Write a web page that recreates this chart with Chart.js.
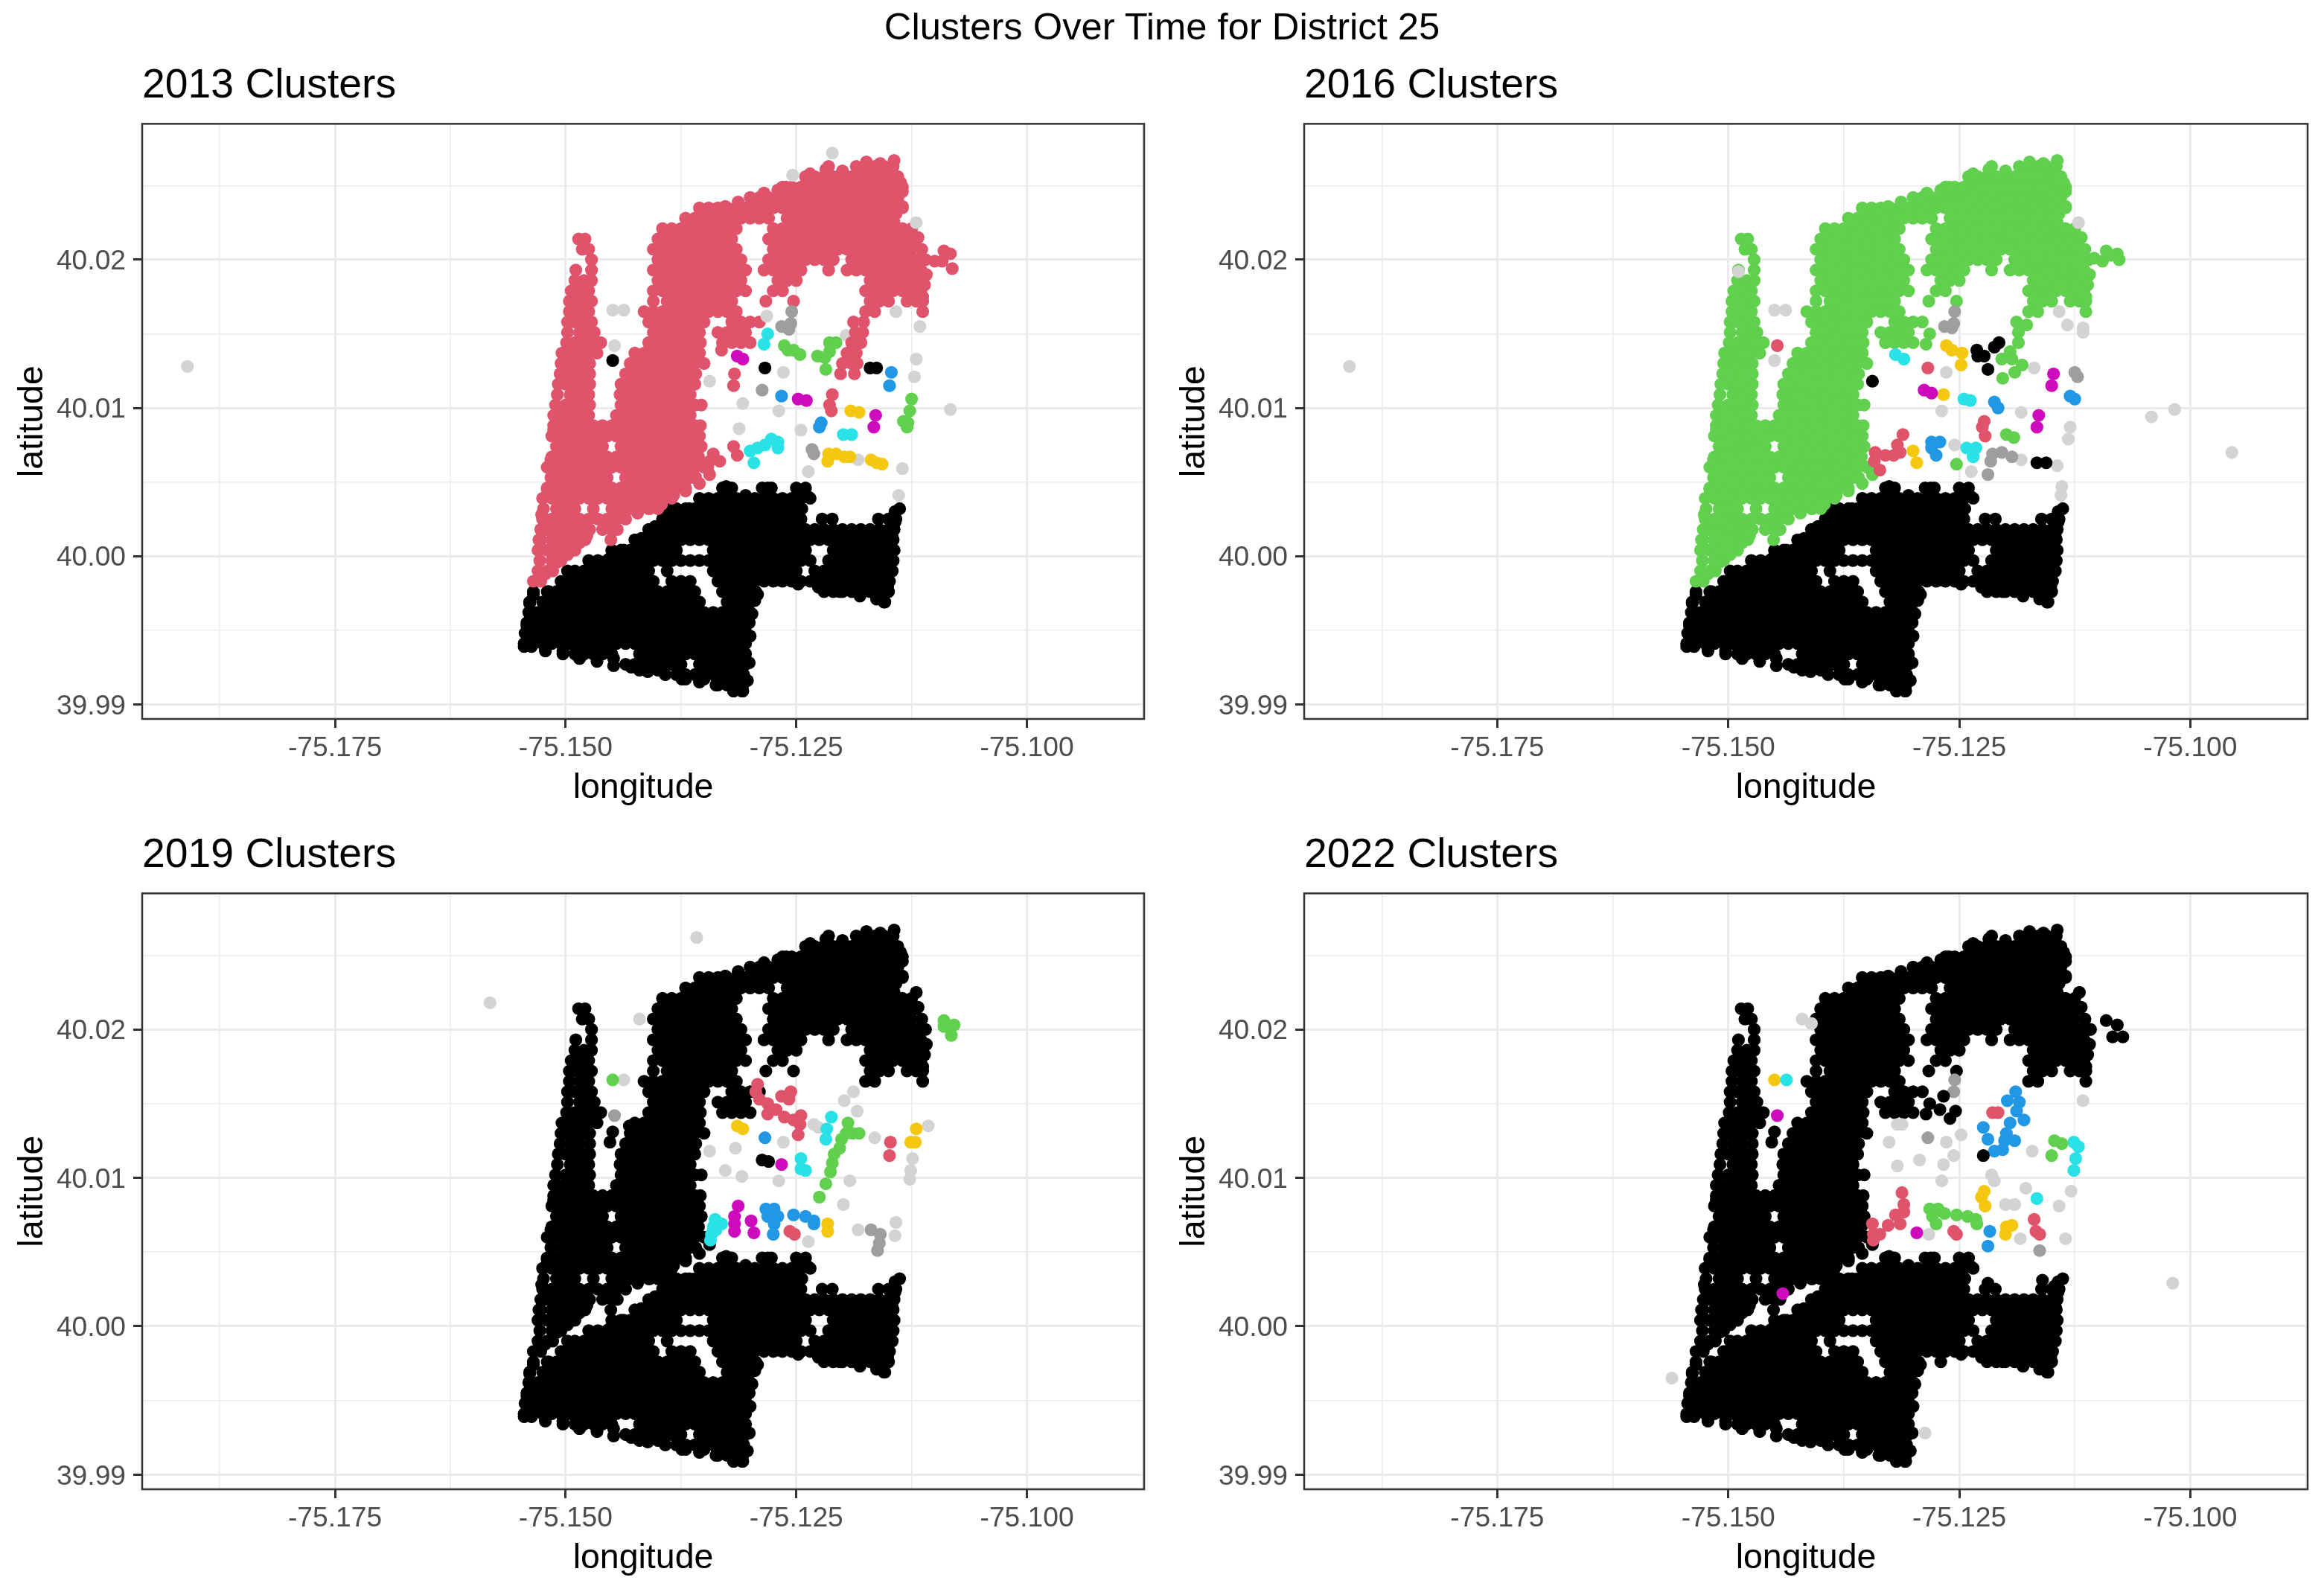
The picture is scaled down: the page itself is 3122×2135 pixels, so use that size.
<!DOCTYPE html>
<html lang="en">
  <head>
    <meta charset="UTF-8" />
    <title>Clusters Over Time for District 25</title>
    <script src="https://cdn.jsdelivr.net/npm/chart.js@4"></script>
    <style>
      body { margin: 0; background: #fff; width: 3122px; height: 2135px; position: relative; overflow: hidden; font-family: "Liberation Sans", Arial, sans-serif; }
      h1 { position: absolute; left: 0; width: 3122px; top: 6px; margin: 0; text-align: center; font-size: 50.7px; line-height: 60px; font-weight: normal; color: #000; }
      canvas { position: absolute; }
    </style>
  </head>
  <body>
    <h1>Clusters Over Time for District 25</h1>
    <canvas id="c2013" width="1561" height="1020" style="left:0;top:70px"></canvas>
    <canvas id="c2016" width="1561" height="1020" style="left:1561px;top:70px"></canvas>
    <canvas id="c2019" width="1561" height="1021" style="left:0;top:1104px"></canvas>
    <canvas id="c2022" width="1561" height="1021" style="left:1561px;top:1104px"></canvas>

    <script>
      // longitudes are written as thousandths of a degree west of -75
      const xMajor = [-75.175, -75.15, -75.125, -75.1];
      const xMinor = [-75.1875, -75.1625, -75.1375, -75.1125, -75.0875];
      const xLabels = ['-75.175', '-75.150', '-75.125', '-75.100'];
      const yMajor = [39.99, 40, 40.01, 40.02];
      const yMinor = [39.995, 40.005, 40.015, 40.025];
      const yLabels = ['39.99', '40.00', '40.01', '40.02'];

      // north block of addresses: [latitude, [west...]]
      const northRows = [
        [40.0263,[121.5,117.5,116.5,115.5,114.5]],
        [40.0256,[124,123,122,121,120,119,118,117,116,115,114]],
        [40.0249,[126.5,125.5,124.5,123.5,122.5,121.5,120.5,119.5,118.5,117.5,116.5,115.5,114.5,113.5]],
        [40.0242,[130,129,128,127,126,125,124,123,122,121,120,119,118,117,116,115,114]],
        [40.0235,[135.5,134.5,133.5,132.5,131.5,130.5,129.5,128.5,127.5,126.5,125.5,124.5,123.5,122.5,121.5,120.5,119.5,118.5,117.5,116.5,115.5,114.5,113.5]],
        [40.0228,[137,136,135,134,133,132,131,130,129,128,126,125,124,123,122,121,120,119,118,117,116,115]],
        [40.0221,[139.5,138.5,137.5,136.5,135.5,134.5,133.5,132.5,131.5,127.5,126.5,125.5,124.5,123.5,122.5,121.5,120.5,119.5,118.5,117.5,116.5,115.5,114.5,113.5,112.5]],
        [40.0214,[148.6,147.9,140,139,138,137,136,135,134,133,132,128,127,126,125,124,123,122,121,120,119,118,117,116,115,114,113,112]],
        [40.0207,[148.2,147.5,140.5,139.5,138.5,137.5,136.5,135.5,134.5,133.5,132.5,131.5,127.5,126.5,125.5,124.5,123.5,122.5,121.5,120.5,119.5,118.5,117.5,116.5,115.5,114.5,113.5,112.5]],
        [40.02,[147.2,140,139,138,137,136,135,134,133,132,131,128,127,126,125,124,123,122,121,119,118,117,116,115,114,113,112,111]],
        [40.0193,[148.9,147.2,140.5,139.5,138.5,137.5,136.5,135.5,134.5,133.5,132.5,131.5,130.5,128.5,127.5,126.5,125.5,124.5,121.5,119.5,118.5,117.5,116.5,115.5,114.5,113.5,112.5,111.5]],
        [40.0186,[149,148,147.2,140,139,138,137,136,135,134,133,132,131,127,126,125,117,116,115,114,113,112]],
        [40.0179,[149.4,148.5,147.5,140.5,139.5,138.5,137.5,136.5,135.5,134.5,133.5,132.5,131.5,130.5,127.5,126.5,117.5,116.5,115.5,114.5,113.5,112.5,111.5]],
        [40.0172,[149.6,149,148,147.2,140.5,139,138,137,136,135,134,133,132,128.3,125.3,117,116,115,113,112,111.3]],
        [40.0165,[149.6,148.5,147.5,141.5,140.5,139.5,138.5,137.5,136.5,135.5,134.5,133.5,132.5,131.5,117.5,116.5,111.3]],
        [40.0158,[149.8,149,148,147.2,141,140,139,138,137,136,135,132,131,130,129]],
        [40.0151,[149.8,148.5,147.5,146.9,140.5,139.5,138.5,137.5,136.5,135.5,133.5,132.5,131.5,130.5]],
        [40.0144,[149.9,149,148,147,146.2,141,140,139,138,137,136,135.4,133,132,131,130]],
        [40.0137,[150.4,149.5,148.5,147.5,146.6,142.5,141.5,140.5,139.5,138.5,137.5,136.5,135.5]],
        [40.013,[150.5,150,149,148,147.4,143,142,141,140,139,138,137,136,135]],
        [40.0123,[150.6,149.5,148.5,147.4,143.5,142.5,141.5,140.5,139.5,138.5,137.5,136.5,135.9]],
        [40.0116,[150.8,150,149,148,147.4,144,143,142,141,140,139,138,137,136]],
        [40.0109,[150.9,149.5,148.5,147.5,144.1,143.5,142.5,141.5,140.5,139.5,138.5,137.5,136.5]],
        [40.0102,[151.1,150,149,148,147.4,144,143,142,141,140,139,138,137,136,135.3]],
        [40.0095,[151.3,150.5,149.5,148.5,147.5,144.5,143.5,142.5,141.5,140.5,139.5,138.5,137.5,136.5]],
        [40.0088,[151.3,151,150,149,148,147,146,145,144,143,142,141,140,139,138,137,136,135.4]],
        [40.0081,[151.5,150.5,149.5,148.5,147.5,146.5,145.5,144.5,143.5,142.5,141.5,140.5,139.5,138.5,137.5,136.5,135.5]],
        [40.0074,[151,150,149,148,147,146,144,143,142,141,140,139,138,137,136,135.3]],
        [40.0067,[151.5,150.5,149.5,148.5,147.5,146.5,145.5,144.5,143.5,142.5,141.5,140.5,139.5,138.5,137.5,136.5,135.6]],
        [40.006,[152,151,150,149,148,147,146,145,144,143,142,141,140,139,138,137,136,135,134.6]],
        [40.0053,[151.6,150.5,149.5,148.5,147.5,146.5,145.5,143.5,142.5,141.5,140.5,139.5,138.5,137.5,136.5,135.9]],
        [40.0046,[152,151,150,149,148,147,146,145,144,143,142,141,140,139,138,137]],
        [40.0039,[152.5,151.5,150.5,149.5,148.5,147.5,146.5,145.5,144.5,143.5,142.5,141.5,140.5,139.5,138.5]],
        [40.0032,[152.4,151,150,149,147,145,144,143,142,141,140]],
        [40.0025,[152.5,151.5,150.5,149.5,148.5,147.5,146.5,145.5,144.5,143.5]],
        [40.0018,[152.7,152,151,150,149,148,147.4,146,145,144.4]],
        [40.0011,[152.7,151.5,150.5,149.5,148.5,147.9,145.1]],
        [40.0004,[153,152,151,150,149]],
        [39.9997,[152.8,151.5,150.5]],
        [39.999,[153,152,151.4]],
        [39.9983,[153.5,152.7]]
      ];
      // points along the outline of the north block: [west, latitude]
      const northEdge = [[139.4,40.0218],[135.5,40.023],[134,40.0234],[132.7,40.0236],[131.3,40.0239],[128.5,40.0245],[127,40.0247],[126.1,40.0249],[123.5,40.0258],[121.8,40.0261],[120,40.026],[118.5,40.0263],[117.4,40.0266],[115.9,40.0265],[114.4,40.0267],[113.7,40.0252],[113.5,40.0246],[113.5,40.0236],[114.2,40.0231],[114.4,40.0225],[112.9,40.0219],[111.8,40.0215],[111.4,40.0207],[110.9,40.019],[111.1,40.0183],[111.3,40.0175],[152.2,39.9988],[150.9,39.9996],[149.8,40.0001],[148.5,40.0009],[147.7,40.0014],[142.2,40.0029],[140.9,40.0032],[139.6,40.0035],[138.3,40.0041],[137,40.0044],[135.5,40.0049],[134.4,40.0055],[152.9,40.0011],[152.6,40.0028],[152,40.0045],[151.6,40.0065],[151.3,40.0085]];

      // south block of addresses
      const southRows = [
        [40.0046,[133,132,128.7,127.7,125,124]],
        [40.0039,[135.5,134.5,133.5,132.5,131.5,130.5,129.5,128.5,127.5,126.5,125.5,124.5,123.5]],
        [40.0032,[138.7,138,137,136,135,134,133,132,131,130,129,128,127,126,125,124.4,113.8]],
        [40.0025,[139.5,138.5,137.5,136.5,135.5,134.5,133.5,132.5,131.5,130.5,129.5,128.5,127.5,126.5,125.5,124.5,122.2,121.1,116.1,115,114.2]],
        [40.0018,[141,140,139,138,137,136,135,134,133,132,131,130,129,128,127,126,125,124,123,122,121,120,119,118,117,116,115,114.4]],
        [40.0011,[142.5,141.5,140.5,139.5,138.5,137.5,136.5,135.5,134.5,133.5,132.5,131.5,130.5,129.5,128.5,127.5,126.5,125.5,124.5,123.5,122.5,121.5,120.5,119.5,118.5,117.5,116.5,115.5,114.5]],
        [40.0004,[145,144,143,142,141,140,139,138,134,133,132,131,130,129,128,127,126,125,124,121,120,119,118,117,116,115,114.4]],
        [39.9997,[147.5,146.5,145.5,144.5,143.5,142.5,141.5,140.5,139.5,138.5,137.5,136.5,135.5,134.5,133.5,132.5,131.5,130.5,129.5,128.5,127.5,126.5,125.5,124.5,123.5,121.5,120.5,119.5,118.5,117.5,116.5,115.5,114.5]],
        [39.999,[149.8,149,148,147,146,145,144,143,142,141,139,134,133,132,131,130,129,128,127,126,125,123,122,121,120,119,118,117,116,115,114.6]],
        [39.9983,[150.5,149.5,148.5,147.5,146.5,145.5,144.5,143.5,142.5,141.5,140.5,138.5,137.5,136.5,133.5,132.5,131.5,130.5,129.5,128.5,127.5,126.5,125.5,124.5,123.5,122.5,121.5,120.5,119.5,118.5,117.5,116.5,115.5,114.9]],
        [39.9976,[153.5,152,151,150,149,148,147,146,145,144,143,142,141,140,139,138,137,136,133,132,131,130,129.4,122,121,120,119,118,117,116,115]],
        [39.9969,[153.9,152.5,151.5,150.5,149.5,148.5,147.5,146.5,145.5,144.5,143.5,142.5,141.5,140.5,139.5,138.5,137.5,136.5,135.5,132.5,131.5,130.5,130,115.5]],
        [39.9962,[154,153,152,151,150,149,148,147,146,145,144,143,142,141,140,139,138,137,136,135,134,133,132,131,130]],
        [39.9955,[154.2,153.5,152.5,151.5,150.5,149.5,148.5,147.5,146.5,145.5,144.5,143.5,142.5,141.5,140.5,139.5,138.5,137.5,136.5,135.5,134.5,133.5,132.5,131.5,130.5,130.1]],
        [39.9948,[154.4,154,153,152,151,150,149,148,147,146,145,144,143,142,141,140,139,138,137,136,135,134,133,132,131,130.4]],
        [39.9941,[154.5,153.5,152.5,151.5,150.5,149.5,148.5,147.5,146.5,145.5,144.5,143.5,142.5,141.5,140.5,139.5,138.5,137.5,136.5,135.5,134.5,133.5,132.5,131.5,130.5]],
        [39.9936,[152.2,150.3]],
        [39.9934,[149,148,147,146,145,142,141,140,139,138,137,136,135,134,133,132,131,130.5]],
        [39.9931,[148.5,146.6,144.8]],
        [39.9927,[143.5,142.5,141.5,140.5,139.5,138.5,137.5,135.5,134.5,133.5,132.5,131.5,130.5]],
        [39.9923,[142,140]],
        [39.992,[138,137,136,135,134,133,132,131,130.7]],
        [39.9917,[137,135]],
        [39.9913,[133.5,132.5,131.5,130.8]],
        [39.9909,[131.8,130.9]]
      ];
      // points along the outline of the south block
      const southEdge = [[153.5,39.9974],[151.8,39.9976],[150.1,39.9981],[148.5,39.9987],[147,39.9992],[145.3,39.9998],[143.7,40.0004],[141.8,40.0012],[140.3,40.002],[138.9,40.0028],[136.6,40.0032],[134.8,40.0038],[132.6,40.0047],[130.5,40.0041],[128.1,40.0046],[125,40.0039],[123.7,40.004],[114.3,40.003],[114.3,40.0023],[114.6,40.0013],[114.8,40.0003],[115,39.9991],[115.1,39.9979],[115.4,39.9969],[116.3,39.9971],[118.1,39.9973],[120.3,39.9976],[122.6,39.9979],[124.8,39.9981],[127,39.9984],[154.5,39.9939],[154.2,39.9953],[153.9,39.9968],[153.7,39.9939],[152.2,39.9937],[150.3,39.9934],[148.5,39.9931],[146.6,39.9929],[144.8,39.9926],[142.9,39.9925],[141.1,39.9922],[139.2,39.992],[137.4,39.9917],[135.5,39.9915],[133.7,39.9913],[131.8,39.9909],[130.8,39.9909],[130.3,39.9916],[130.1,39.9928],[130,39.9946],[129.8,39.9961],[129.5,39.997],[129.2,39.9974]];

      // 2013 clusters: [west, latitude]
      const grey2013 = [[191,40.0128],[121.1,40.0272],[125.4,40.0257],[112,40.0225],[144.9,40.0166],[143.7,40.0166],[128.2,40.0162],[114.2,40.0165],[111.6,40.0155],[119.6,40.0149],[144.7,40.0142],[112,40.0133],[134.4,40.0118],[126.4,40.0124],[112.2,40.0121],[130.8,40.0103],[126.9,40.0098],[108.3,40.0099],[131.2,40.0086],[124.5,40.0085],[118.3,40.0065],[123.7,40.0057],[113.5,40.0059],[113.9,40.0041]];
      const black2013 = [[144.9,40.0132],[128.4,40.0127],[117,40.0127],[116.3,40.0127]];
      const red2013 = [[133.1,40.0139],[131.7,40.0123],[131.8,40.0115],[121.1,40.0109],[121.4,40.0102],[121.2,40.0098],[131.8,40.0074],[131.4,40.0068],[134,40.0069],[134.4,40.0064],[133.3,40.0064],[118.8,40.0158],[117.7,40.0158],[118.6,40.0151],[117.8,40.0151],[119,40.0144],[118,40.0144],[119.5,40.0137],[118.5,40.0137],[120,40.013],[119,40.013],[118.4,40.013],[120.2,40.0123],[118.7,40.0123],[109,40.0206],[108.3,40.0204],[108.1,40.0194],[110,40.0199],[109.2,40.0199]];
      const green2013 = [[126.3,40.0142],[125.9,40.0139],[125.3,40.0139],[124.6,40.0136],[122.7,40.0135],[121.9,40.0134],[121.8,40.0126],[121.4,40.0144],[120.7,40.0144],[121.4,40.0138],[112.5,40.0106],[112.7,40.0098],[113.4,40.0091],[112.9,40.009],[113,40.0087]];
      const blue2013 = [[126.6,40.0108],[114.7,40.0124],[114.9,40.0115],[122.3,40.009],[122.5,40.0087]];
      const cyan2013 = [[128.1,40.015],[128.5,40.0143],[130,40.0071],[129.2,40.0073],[128.4,40.0075],[127.7,40.0079],[127,40.0077],[127,40.0073],[129.6,40.0063],[119.9,40.0082],[119,40.0082]];
      const magenta2013 = [[131.4,40.0135],[130.8,40.0133],[124.8,40.0106],[123.9,40.0105],[116.4,40.0095],[116.6,40.0087]];
      const yellow2013 = [[119.1,40.0098],[118.2,40.0097],[121.5,40.0069],[121.6,40.0064],[120.7,40.0069],[119.8,40.0067],[119.2,40.0067],[116.9,40.0065],[116.3,40.0063],[115.7,40.0062]];
      const dark2013 = [[125.5,40.0165],[125.6,40.0157],[126.6,40.0155],[125.8,40.0153],[128.7,40.0112],[123.3,40.0072],[123.1,40.0069]];

      // 2016 clusters
      const grey2016 = [[191,40.0128],[95.5,40.007],[148.9,40.0192],[145,40.0166],[143.8,40.0166],[145,40.0132],[112.1,40.0225],[114.2,40.0165],[113.3,40.0156],[111.6,40.0154],[111.6,40.0151],[126.4,40.0124],[116.9,40.0127],[126.9,40.0098],[118.3,40.0097],[113,40.0087],[113.2,40.0079],[125.5,40.0075],[118.3,40.0065],[123.7,40.0057],[114.4,40.0061],[113.9,40.0047],[114,40.0041],[104.2,40.0094],[101.7,40.0099]];
      const black2016 = [[134.4,40.0118],[123.1,40.0139],[122.3,40.0135],[121.9,40.0126],[123,40.0135],[121.2,40.0141],[120.7,40.0144],[116.6,40.0063],[115.6,40.0063]];
      const red2016 = [[144.7,40.0142],[128.4,40.0127],[122.3,40.0091],[122.5,40.0087],[122.2,40.0081],[131.1,40.0082],[131.7,40.0075],[131.4,40.007],[134.1,40.007],[133,40.0068],[132.1,40.0068],[134.2,40.0064],[133.6,40.0058]];
      const green2016 = [[118.8,40.0158],[117.7,40.0156],[118.6,40.0151],[118.6,40.0144],[119.5,40.0138],[120.4,40.0133],[119.3,40.0133],[118.2,40.0129],[119,40.0124],[120.3,40.012],[128.6,40.0143],[128.2,40.015],[125.3,40.0062],[119.9,40.0082],[119.1,40.008],[109.1,40.0206],[107.9,40.0204],[107.7,40.02],[110.4,40.0201],[109.5,40.0199],[108.6,40.0203]];
      const blue2016 = [[121.2,40.0104],[120.8,40.01],[113,40.0108],[112.5,40.0106],[128,40.0077],[127.1,40.0077],[128,40.0073],[127.5,40.0068]];
      const cyan2016 = [[131.9,40.0136],[131,40.0133],[124.5,40.0106],[123.8,40.0105],[124.2,40.0073],[123.2,40.0073],[123.5,40.0067]];
      const magenta2016 = [[114.8,40.0123],[115,40.0115],[128.8,40.0112],[128,40.011],[116.4,40.0095],[116.6,40.0087]];
      const yellow2016 = [[126.4,40.0142],[125.8,40.0139],[124.7,40.0137],[124.8,40.0129],[126.7,40.0109],[130,40.0071],[129.6,40.0063]];
      const dark2016 = [[125.5,40.0165],[125.6,40.0157],[126.6,40.0155],[125.8,40.0154],[112.5,40.0124],[112.2,40.0121],[121.9,40.0055],[121.4,40.0069],[120.4,40.007],[119.3,40.0067],[121.6,40.0064]];

      // 2019 clusters
      const grey2019 = [[135.8,40.0262],[158.2,40.0218],[142,40.0207],[143.7,40.0166],[118.8,40.0158],[119.8,40.0152],[118.4,40.0145],[123.1,40.0136],[122.6,40.0134],[116.5,40.0127],[110.7,40.0135],[126.4,40.0124],[134.4,40.0118],[131.6,40.012],[132.7,40.0105],[130.9,40.0101],[126.9,40.0098],[119.2,40.0098],[112.4,40.0113],[112.6,40.0105],[112.7,40.0099],[119.9,40.0082],[118.3,40.0065],[114.2,40.007],[114.3,40.0061],[123.7,40.0057]];
      const black2019 = [[128.7,40.0112],[128,40.0111],[144.9,40.0131],[145.2,40.0124],[143.1,40.0135],[112,40.0225]];
      const red2019 = [[129.2,40.0163],[129.4,40.0158],[129,40.0153],[128.1,40.015],[128.1,40.0143],[127.2,40.0146],[126.3,40.0141],[125.3,40.0139],[124.5,40.0142],[124.6,40.0136],[124.8,40.0129],[126.6,40.0155],[125.6,40.0158],[125.8,40.0153],[114.8,40.0124],[114.9,40.0115],[125.7,40.0064],[125.2,40.0062]];
      const green2019 = [[144.9,40.0166],[119.4,40.0137],[119.6,40.013],[118.9,40.013],[118.2,40.013],[120.1,40.0126],[120.3,40.012],[120.9,40.0116],[121.1,40.011],[121.3,40.0104],[121.8,40.0096],[122.5,40.0087],[109,40.0206],[107.9,40.0203],[108.2,40.0196],[109,40.0202]];
      const blue2019 = [[128.4,40.0127],[128.3,40.0079],[127.4,40.0079],[127,40.0074],[128.1,40.0074],[127.4,40.0069],[127.5,40.0062],[125.3,40.0075],[124,40.0074],[123.1,40.0071],[123.1,40.0069]];
      const cyan2019 = [[121.2,40.0141],[121.7,40.0133],[121.8,40.0126],[124.5,40.0113],[124.5,40.0106],[124,40.0105],[133.8,40.0072],[133.1,40.0069],[134,40.0067],[134.2,40.0062],[134.3,40.0058],[133.7,40.0065]];
      const magenta2019 = [[126.6,40.0109],[131.3,40.0081],[131.7,40.0074],[131.7,40.0069],[131.7,40.0064],[129.9,40.0071],[129.6,40.0063]];
      const yellow2019 = [[131.4,40.0135],[130.8,40.0133],[112,40.0133],[112.6,40.0124],[112.1,40.0124],[121.6,40.0069],[121.6,40.0064]];
      const dark2019 = [[144.7,40.0142],[116.9,40.0065],[115.9,40.0062],[116,40.0056],[116.2,40.0051]];

      // 2022 clusters
      const grey2022 = [[142,40.0207],[141,40.0204],[131.7,40.0136],[131.2,40.0136],[132.6,40.0124],[126.4,40.0124],[124.8,40.0129],[125.6,40.0115],[129.3,40.0112],[131.7,40.0108],[126.7,40.0109],[126.9,40.0098],[121.5,40.0102],[121.2,40.0098],[117.1,40.0118],[117.8,40.0093],[112.9,40.0091],[120,40.0082],[119,40.0082],[114.2,40.0081],[111.6,40.0152],[128.3,40.0062],[118.4,40.0059],[113.5,40.0059],[156.1,39.9965],[128.7,39.9928],[101.9,40.0029]];
      const black2022 = [[109.1,40.0206],[107.9,40.0203],[108.4,40.0195],[107.3,40.0195],[110.8,40.02],[122.4,40.0115],[126.7,40.0155],[128.2,40.015],[127.1,40.0146],[126,40.014],[125.4,40.0145],[128.6,40.0143],[145,40.0131],[145.3,40.0124],[112,40.0225],[116,40.0031],[114.7,40.0027],[121.9,40.0029],[127,39.9976]];
      const red2022 = [[121.4,40.0144],[120.8,40.0144],[131.2,40.009],[131,40.0082],[131,40.0077],[131.9,40.0075],[131.4,40.0069],[132.7,40.0068],[134.4,40.0069],[134.3,40.0062],[133.6,40.0062],[134.3,40.0058],[125.6,40.0064],[125.3,40.0062],[116.9,40.0072],[116.7,40.0064],[116.3,40.0062]];
      const green2022 = [[114.7,40.0125],[113.9,40.0123],[115,40.0115],[128.2,40.0079],[127.3,40.0079],[126.6,40.0076],[127.9,40.0074],[127.5,40.0069],[125.3,40.0075],[124.1,40.0074],[123.2,40.0072],[123.1,40.0069]];
      const blue2022 = [[118.9,40.0158],[119.8,40.0152],[118.5,40.0151],[118.8,40.0145],[118,40.0139],[119.5,40.0137],[119.9,40.013],[119,40.0125],[120.1,40.0125],[120.3,40.0119],[121.2,40.0118],[122.4,40.0134],[121.9,40.0126],[121.7,40.0064],[121.9,40.0054]];
      const cyan2022 = [[143.7,40.0166],[112.6,40.0124],[112.1,40.0121],[112.4,40.0113],[112.6,40.0105],[116.6,40.0086]];
      const magenta2022 = [[144.7,40.0142],[144.1,40.0022],[129.6,40.0063]];
      const yellow2022 = [[145,40.0166],[122.3,40.0091],[122.6,40.0087],[122.2,40.0081],[119.9,40.0067],[119.3,40.0068],[120,40.0062]];
      const dark2022 = [[125.5,40.0166],[125.6,40.0158],[128.4,40.0127],[116.3,40.0051]];

      const BLACK = '#000000', RED = '#DF536B', GREEN = '#61D04F', BLUE = '#2297E6';
      const CYAN = '#28E2E5', MAGENTA = '#CD0BBC', YELLOW = '#F5C710', DARK = '#9E9E9E', GREY = '#D3D3D3';
      const POINT_R = 8.6;

      const toLon = w => -75 - w / 1000;
      const rowPoints = rows => rows.flatMap(([lat, wests]) => wests.map(w => ({ x: toLon(w), y: lat })));
      const clusterPoints = list => list.map(([w, lat]) => ({ x: toLon(w), y: lat }));

      function dataset(data, color) {
        return { data, backgroundColor: color, borderWidth: 0, pointRadius: POINT_R, pointHoverRadius: POINT_R, showLine: false };
      }

      const panelBox = {
        id: 'panelBox',
        afterDraw(chart) {
          const { ctx, chartArea: a } = chart;
          ctx.save();
          ctx.strokeStyle = '#333333';
          ctx.lineWidth = 2.5;
          ctx.strokeRect(a.left, a.top, a.right - a.left, a.bottom - a.top);
          ctx.restore();
        }
      };

      function isMajor(list, v) {
        return list.some(m => Math.abs(m - v) < 1e-6);
      }

      function axis(major, minor, labels, min, max, titleText, fitSize, padTitle, tickPad, labelOffset) {
        const all = major.concat(minor);
        return {
          type: 'linear',
          min,
          max,
          afterBuildTicks: s => { s.ticks = all.map(v => ({ value: v })); },
          afterFit: s => {
            if (s.isHorizontal()) s.height = fitSize; else s.width = fitSize;
          },
          ticks: {
            autoSkip: false,
            maxRotation: 0,
            minRotation: 0,
            padding: tickPad,
            labelOffset,
            color: '#4D4D4D',
            font: { family: '"Liberation Sans"', size: 37.2 },
            callback: v => {
              const i = major.findIndex(m => Math.abs(m - v) < 1e-6);
              return i < 0 ? '' : labels[i];
            }
          },
          grid: {
            color: '#EBEBEB',
            lineWidth: c => isMajor(major, c.tick.value) ? 3 : 1.5,
            tickColor: c => isMajor(major, c.tick.value) ? '#333333' : 'rgba(0,0,0,0)',
            tickWidth: 3,
            tickLength: 12,
            drawTicks: true
          },
          border: { display: false },
          title: {
            display: true,
            text: titleText,
            color: '#000',
            font: { family: '"Liberation Sans"', size: 46.5 },
            padding: padTitle
          }
        };
      }

      function drawPanel(id, title, northColor, clusters, rightPad) {
        const sets = clusters.map(([list, color]) => dataset(clusterPoints(list), color));
        sets.push(dataset(rowPoints(northRows).concat(clusterPoints(northEdge)), northColor));
        sets.push(dataset(rowPoints(southRows).concat(clusterPoints(southEdge)), BLACK));
        new Chart(document.getElementById(id).getContext('2d'), {
          type: 'scatter',
          data: { datasets: sets },
          plugins: [panelBox],
          options: {
            responsive: false,
            animation: false,
            events: [],
            layout: { padding: { right: rightPad } },
            plugins: {
              legend: { display: false },
              tooltip: { enabled: false },
              title: {
                display: true,
                text: title,
                align: 'start',
                fullSize: false,
                color: '#000',
                font: { family: '"Liberation Sans"', size: 55.3, weight: 'normal' },
                padding: { top: 13, bottom: 17 }
              }
            },
            scales: {
              x: axis(xMajor, xMinor, xLabels, -75.1959, -75.0873, 'longitude', 124, { bottom: 3 }, 5.5, 0),
              y: axis(yMajor, yMinor, yLabels, 39.98901, 40.02917, 'latitude', 191, { top: 16 }, 10, 3)
            }
          }
        });
      }

      drawPanel('c2013', '2013 Clusters', RED, [[black2013, BLACK], [red2013, RED], [green2013, GREEN], [blue2013, BLUE], [cyan2013, CYAN], [magenta2013, MAGENTA], [yellow2013, YELLOW], [dark2013, DARK], [grey2013, GREY]], 24);
      drawPanel('c2016', '2016 Clusters', GREEN, [[black2016, BLACK], [red2016, RED], [green2016, GREEN], [blue2016, BLUE], [cyan2016, CYAN], [magenta2016, MAGENTA], [yellow2016, YELLOW], [dark2016, DARK], [grey2016, GREY]], 22);
      drawPanel('c2019', '2019 Clusters', BLACK, [[black2019, BLACK], [red2019, RED], [green2019, GREEN], [blue2019, BLUE], [cyan2019, CYAN], [magenta2019, MAGENTA], [yellow2019, YELLOW], [dark2019, DARK], [grey2019, GREY]], 24);
      drawPanel('c2022', '2022 Clusters', BLACK, [[black2022, BLACK], [red2022, RED], [green2022, GREEN], [blue2022, BLUE], [cyan2022, CYAN], [magenta2022, MAGENTA], [yellow2022, YELLOW], [dark2022, DARK], [grey2022, GREY]], 22);
    </script>
  </body>
</html>
